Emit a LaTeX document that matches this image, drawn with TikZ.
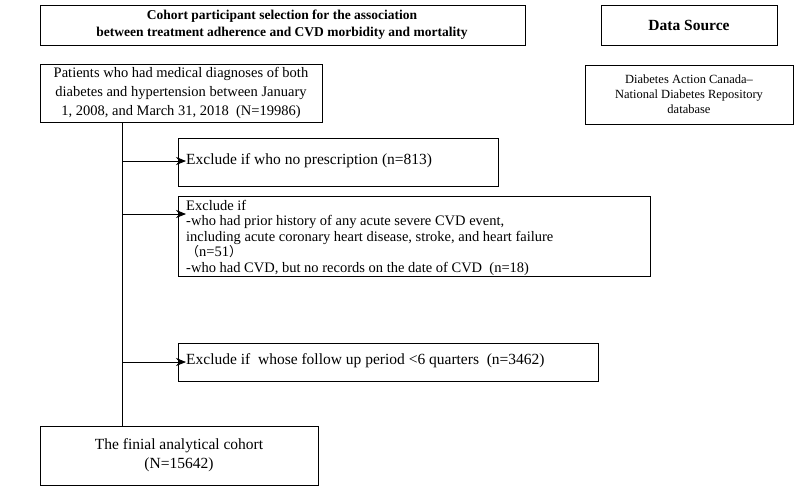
\documentclass[tikz,border=0pt]{standalone}
\usepackage{fontspec}
\setmainfont{Liberation Serif}
\newfontfamily\cjk{Noto Sans CJK SC}
\usetikzlibrary{arrows.meta}
\begin{document}
\begin{tikzpicture}[x=1pt,y=-1pt,
  bx/.style={draw,line width=0.8pt},
  txt/.style={font=\fontsize{15.5}{19}\selectfont,align=left,anchor=north west,inner sep=0pt},
  ctxt/.style={font=\fontsize{15.5}{19}\selectfont,align=center,inner sep=0pt},
  arr/.style={-{Stealth[length=10pt,width=8pt]},line width=0.8pt}]
\useasboundingbox (0,0) rectangle (800,491);
\draw[bx] (40,5) rectangle (525,45);
\node[ctxt,font=\bfseries\fontsize{13.5}{17}\selectfont] (t) at (282,25) {Cohort participant selection for the association\\between treatment adherence and CVD morbidity and mortality};
\draw[bx] (601,5) rectangle (777,45);
\node[ctxt,font=\bfseries\fontsize{15.5}{17}\selectfont] (ds) at (689,25) {Data Source};
\draw[bx] (40,64) rectangle (322,122);
\node[ctxt,font=\fontsize{14.5}{19}\selectfont] (p) at (181,93) {Patients who had medical diagnoses of both\\diabetes and hypertension between January\\1, 2008, and March 31, 2018 \ (N=19986)};
\draw[line width=0.6pt] (585,65) rectangle (793,124);
\node[ctxt,font=\fontsize{12.5}{15}\selectfont] (db) at (689,94) {Diabetes Action Canada–\\National Diabetes Repository\\database};
\draw[bx] (178,138) rectangle (498,186);
\node[txt] (e1) at (186,153) {Exclude if who no prescription (n=813)};
\draw[bx] (178,196) rectangle (650,276);
\node[txt,font=\fontsize{14.5}{15.5}\selectfont] (e2) at (186,200) {Exclude if\\-who had prior history of any acute severe CVD event,\\including acute coronary heart disease, stroke, and heart failure\\{\cjk\fontsize{13}{13}\selectfont （}n=51{\cjk\fontsize{13}{13}\selectfont ）}\\-who had CVD, but no records on the date of CVD \ (n=18)};
\draw[bx] (178,343) rectangle (598,381);
\node[txt] (e3) at (186,353) {Exclude if \ whose follow up period <6 quarters \ (n=3462)};
\draw[bx] (40,426) rectangle (318,485);
\node[ctxt] (f) at (179,455) {The finial analytical cohort\\(N=15642)};
\coordinate (top) at (122,122);
\coordinate (bot) at (122,426);
\draw[line width=0.8pt] (top) -- (bot);
\coordinate (a1) at (122,161); \coordinate (a2) at (122,214); \coordinate (a3) at (122,362);
\draw[arr] (a1) -- (186,161);
\draw[arr] (a2) -- (186,214);
\draw[arr] (a3) -- (186,362);
\end{tikzpicture}
\end{document}
